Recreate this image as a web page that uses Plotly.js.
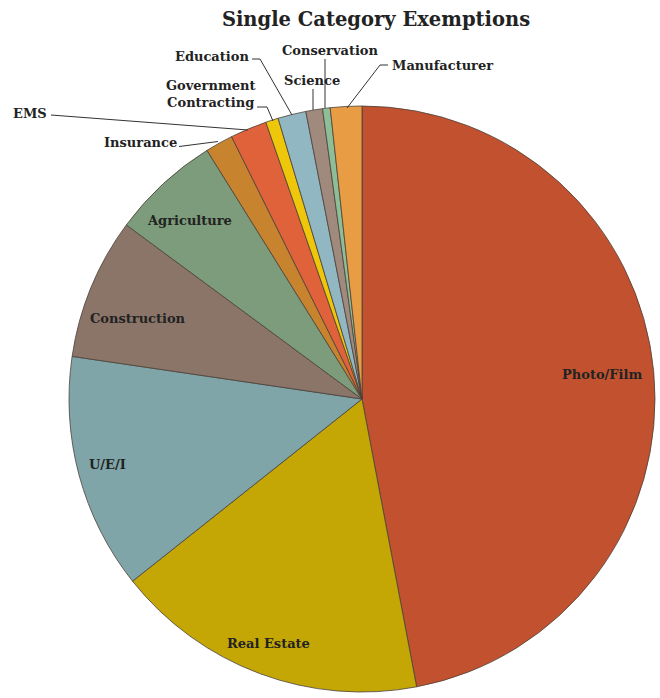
<!DOCTYPE html>
<html><head><meta charset="utf-8">
<script src="https://cdn.plot.ly/plotly-3.0.1.min.js"></script>
<style>html,body{margin:0;padding:0;background:#fff}</style>
</head><body>
<div id="chart" style="width:660px;height:698px"></div>
<script>
const categories = ["Photo/Film","Real Estate","U/E/I","Construction","Agriculture","Insurance","EMS","Government Contracting","Education","Science","Conservation","Manufacturer"];
const values = [47.0,17.3,13.0,7.8,6.0,1.53,2.02,0.7,1.55,0.92,0.42,1.73];
const sliceColors = ["#C2522F","#C4A705","#7FA5A8","#8B7569","#7C9C7B","#C8832F","#E0623B","#EEC60A","#91B8C2","#A08A7E","#8EBE97","#E89D45"];

const W = 660, H = 698;
const px = x => x / W, py = y => 1 - y / H;
const font = "DejaVu Serif, Liberation Serif, serif";

// label placements (pixel positions)
const labelPos = {
  "Photo/Film":[602,374], "Real Estate":[268,643], "U/E/I":[107,464],
  "Construction":[138,318], "Agriculture":[189,221], "Insurance":[140,142],
  "EMS":[30,113], "Government Contracting":[210,94], "Education":[212,57],
  "Science":[312,80], "Conservation":[331,51], "Manufacturer":[442,65]
};
const labelText = {"Government Contracting":"Government<br>Contracting"};

const annotations = categories.map(c => ({
  x: px(labelPos[c][0]), y: py(labelPos[c][1]), xref:'paper', yref:'paper',
  text: labelText[c] || c, showarrow:false, xanchor:'center', yanchor:'middle',
  font:{family:font, size:13, color:'#222', weight:'bold'}
}));

const leaders = [
  [[179,146.5],[218,141.5]],
  [[51,115],[248,130]],
  [[257,107],[267,107],[273,121]],
  [[252,59],[260,59],[292,115]],
  [[313,89],[313,110]],
  [[325,59],[325,108]],
  [[388,65],[380,65],[347,108]]
];
const shapes = leaders.map(pts => ({
  type:'path', xref:'paper', yref:'paper',
  path: pts.map((p,i)=>(i?'L':'M')+px(p[0])+','+py(p[1])).join(' '),
  line:{color:'#333', width:1}
}));

const data = [{
  type:'pie', labels:categories, values:values, sort:false,
  direction:'clockwise', rotation:0, textinfo:'none', hoverinfo:'label+value',
  marker:{colors:sliceColors, line:{color:'#4a4038', width:0.8}},
  domain:{x:[69/W, 655/W], y:[1-692/H, 1-106/H]},
  showlegend:false
}];

const layout = {
  width:W, height:H, margin:{l:0,r:0,t:0,b:0},
  paper_bgcolor:'#fff',
  title:{text:'Single Category Exemptions', x:376/W, xref:'paper', xanchor:'center',
         y:1-19/H, yref:'paper', yanchor:'middle',
         font:{family:font, size:19.5, color:'#222', weight:'bold'}},
  annotations, shapes, showlegend:false
};
Plotly.newPlot('chart', data, layout, {displayModeBar:false, staticPlot:true});
</script>
</body></html>
